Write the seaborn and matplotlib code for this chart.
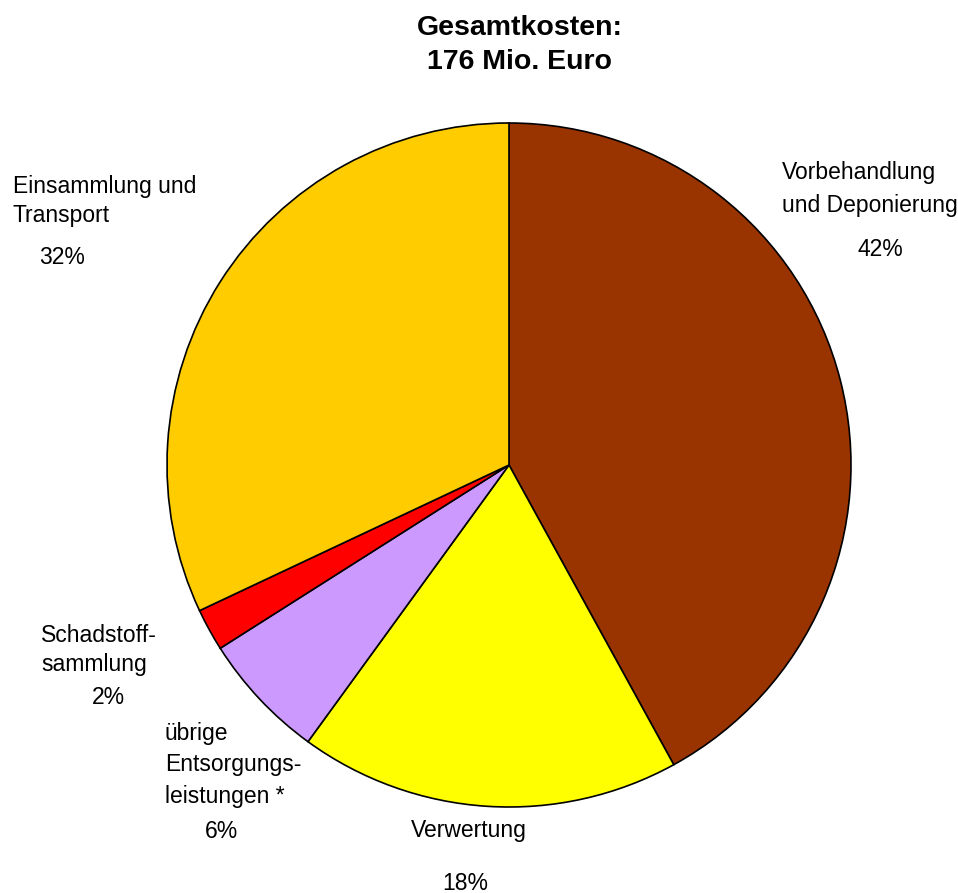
import matplotlib
matplotlib.use("Agg")
import matplotlib.pyplot as plt
import seaborn as sns

# data
categories = ["Vorbehandlung\nund Deponierung", "Verwertung",
              "übrige\nEntsorgungs-\nleistungen *", "Schadstoff-\nsammlung",
              "Einsammlung und\nTransport"]
shares = [42, 18, 6, 2, 32]
colors = ["#993300", "#FFFF00", "#CC99FF", "#FF0000", "#FFCC00"]
title_lines = ["Gesamtkosten:", "176 Mio. Euro"]

sns.set_theme(style="white")
plt.rcParams["font.family"] = ["Liberation Sans", "DejaVu Sans"]

W, H = 958, 893
fig = plt.figure(figsize=(W / 100, H / 100), dpi=100)
ax = fig.add_axes([0, 0, 1, 1])

ax.pie(shares, colors=colors, startangle=90, counterclock=False,
       center=(509, H - 465), radius=342,
       wedgeprops=dict(edgecolor="black", linewidth=1.2))

# pie() resets the limits, so set the pixel frame afterwards
ax.set_xlim(0, W)
ax.set_ylim(0, H)
ax.set_aspect("equal")
ax.axis("off")

ax.text(520, H - 45, "\n".join(title_lines), ha="center", va="center",
        fontsize=20.5, fontweight="bold", linespacing=1.42, color="black")

# label layout: (x_label, y_label, ha, linespacing, x_pct, y_pct) in pixels
layout = [
    (782, 189, "left", 1.56, 880, 250),
    (469, 830, "center", 1.3, 465, 883),
    (165, 765, "left", 1.46, 222, 832),
    (41, 650, "left", 1.37, 108, 697),
    (13, 201, "left", 1.37, 62, 257),
]
for cat, val, (lx, ly, ha, ls, px, py) in zip(categories, shares, layout):
    ax.text(lx, H - ly, cat, ha=ha, va="center", fontsize=16.5,
            linespacing=ls, color="black")
    ax.text(px, H - py, f"{val}%", ha="center", va="center", fontsize=16.5,
            color="black")

fig.savefig("out.png", dpi=100, facecolor="white")
